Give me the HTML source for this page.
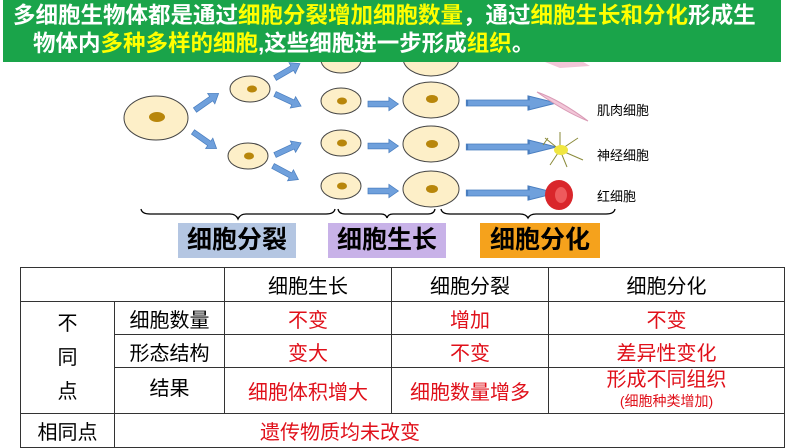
<!DOCTYPE html>
<html><head><meta charset="utf-8"><style>
body{margin:0;width:794px;height:447px;overflow:hidden;background:#fff;font-family:"Liberation Sans","Noto Sans CJK SC",sans-serif;}
.ban{position:absolute;left:3px;top:0;width:778px;height:62px;background:#1aa44a;color:#fff;font-weight:bold;font-size:22.5px;line-height:28px;}
.y{color:#ffff00}
.lab{position:absolute;font-weight:bold;font-size:25px;line-height:35px;text-align:center;color:#000}
table{position:absolute;left:20px;top:267px;border-collapse:collapse;table-layout:fixed;width:764px;font-size:20px;font-family:"Liberation Sans","Noto Sans CJK SC",sans-serif;}
td{border:1.5px solid #333;text-align:center;padding:0;color:#000;white-space:nowrap;overflow:visible}
.r{color:#e0101a}
</style></head><body>
<svg style="position:absolute;left:0;top:0" width="794" height="447">
<defs><g id="ar"><polygon points="0,-3 22,-3 22,-7 32,0 22,7 22,3 0,3" fill="#6fa0dc" stroke="#4a7ebf" stroke-width="0.8"/></g></defs>
<g stroke="#444" stroke-width="1" fill="#fdefc8">
<ellipse cx="341" cy="60" rx="20" ry="13"/>
<ellipse cx="431" cy="58" rx="28" ry="18"/>
</g>
<path d="M540 60 L580 60 L590 66 L560 68Z" fill="#f2c6d8"/>
<g stroke="#444" stroke-width="1" fill="#fdefc8">
<ellipse cx="156" cy="118" rx="32" ry="22"/>
<ellipse cx="250" cy="89" rx="20" ry="13"/>
<ellipse cx="248" cy="156" rx="20" ry="13"/>
<ellipse cx="341" cy="101" rx="20" ry="13"/>
<ellipse cx="341" cy="143" rx="20" ry="13"/>
<ellipse cx="341" cy="186" rx="20" ry="13"/>
<ellipse cx="431" cy="100" rx="28" ry="18"/>
<ellipse cx="431" cy="144" rx="28" ry="18"/>
<ellipse cx="431" cy="189" rx="28" ry="18"/>
</g>
<g fill="#b8860b">
<ellipse cx="157" cy="117" rx="8" ry="5"/>
<ellipse cx="252" cy="89" rx="5" ry="3.5"/><ellipse cx="249" cy="156" rx="5" ry="3.5"/>
<ellipse cx="342" cy="101" rx="5" ry="3.5"/><ellipse cx="342" cy="143" rx="5" ry="3.5"/><ellipse cx="342" cy="186" rx="5" ry="3.5"/>
<ellipse cx="432" cy="99" rx="6" ry="4"/><ellipse cx="432" cy="144" rx="6" ry="4"/><ellipse cx="432" cy="189" rx="6" ry="4"/>
</g>
<use href="#ar" transform="translate(195,110) rotate(-35) scale(0.9)"/>
<use href="#ar" transform="translate(193,132) rotate(35) scale(0.9)"/>
<use href="#ar" transform="translate(275,78) rotate(-30) scale(0.9)"/>
<use href="#ar" transform="translate(275,94) rotate(25) scale(0.9)"/>
<use href="#ar" transform="translate(275,155) rotate(-25) scale(0.9)"/>
<use href="#ar" transform="translate(273,166) rotate(28) scale(0.9)"/>
<use href="#ar" transform="translate(368,104) scale(0.95)"/>
<use href="#ar" transform="translate(368,146) scale(0.95)"/>
<use href="#ar" transform="translate(368,191) scale(0.95)"/>
<use href="#ar" transform="translate(467,103) scale(2.8,1)"/>
<use href="#ar" transform="translate(467,147) scale(2.8,1)"/>
<use href="#ar" transform="translate(467,193) scale(2.8,1)"/>
<path d="M537 92 Q560 100 588 121 Q565 112 537 92Z" fill="#f2c6d8" stroke="#d99ab5" stroke-width="1"/>
<g stroke="#8a8a3a" stroke-width="1" fill="none"><path d="M560 150 L545 138 M560 150 L550 165 M560 150 L578 138 M560 150 L583 160 M560 150 L560 132 M560 150 L567 167 M548 138 L543 145"/></g>
<ellipse cx="561" cy="150" rx="7" ry="5" fill="#f0e640"/>
<ellipse cx="559" cy="195" rx="14" ry="15" fill="#d9262b"/>
<ellipse cx="561" cy="195" rx="6" ry="8" fill="#ee5a5c"/>
<g font-size="13" fill="#000"><text x="597" y="115">肌肉细胞</text><text x="597" y="160">神经细胞</text><text x="597" y="201">红细胞</text></g>
<g stroke="#000" stroke-width="1.3" fill="none">
<path d="M141 209 Q142 214 150 214 L230 214 Q236 214 238 219 Q240 214 246 214 L326 214 Q334 214 335 209"/>
<path d="M338 209 Q339 214 345 214 L381 214 Q386 214 387 218 Q388 214 393 214 L428 214 Q434 214 435 209"/>
<path d="M441 209 Q442 214 450 214 L520 214 Q526 214 528 218 Q530 214 536 214 L606 214 Q614 214 615 209"/>
</g>
</svg>
<div class="ban"><div style="position:absolute;left:10px;top:2px;white-space:nowrap">多细胞生物体都是通过<span class="y">细胞分裂增加细胞数量</span>，通过<span class="y">细胞生长和分化</span>形成生</div>
<div style="position:absolute;left:30px;top:30px;white-space:nowrap">物体内<span class="y">多种多样的细胞</span>,这些细胞进一步形成<span class="y">组织</span>。</div></div>
<div class="lab" style="left:178px;top:223px;width:118px;background:#b4c6e2">细胞分裂</div>
<div class="lab" style="left:328px;top:223px;width:118px;background:#c8b2e8">细胞生长</div>
<div class="lab" style="left:480px;top:223px;width:120px;background:#f5a21c">细胞分化</div>
<table>
<colgroup><col style="width:94px"><col style="width:110px"><col style="width:167px"><col style="width:157px"><col style="width:236px"></colgroup>
<tr style="height:34px"><td colspan="2"></td><td>细胞生长</td><td>细胞分裂</td><td>细胞分化</td></tr>
<tr style="height:33px"><td rowspan="3" style="line-height:34px">不<br>同<br>点</td><td>细胞数量</td><td class="r">不变</td><td class="r">增加</td><td class="r">不变</td></tr>
<tr style="height:33px"><td>形态结构</td><td class="r">变大</td><td class="r">不变</td><td class="r">差异性变化</td></tr>
<tr style="height:46px"><td style="vertical-align:top;padding-top:4px">结果</td><td class="r">细胞体积增大</td><td class="r">细胞数量增多</td><td class="r" style="line-height:20px">形成不同组织<br><span style="font-size:14px">(细胞种类增加)</span></td></tr>
<tr style="height:34px"><td>相同点</td><td colspan="4" class="r" style="text-align:left;padding-left:145px">遗传物质均未改变</td></tr>
</table>
</body></html>
